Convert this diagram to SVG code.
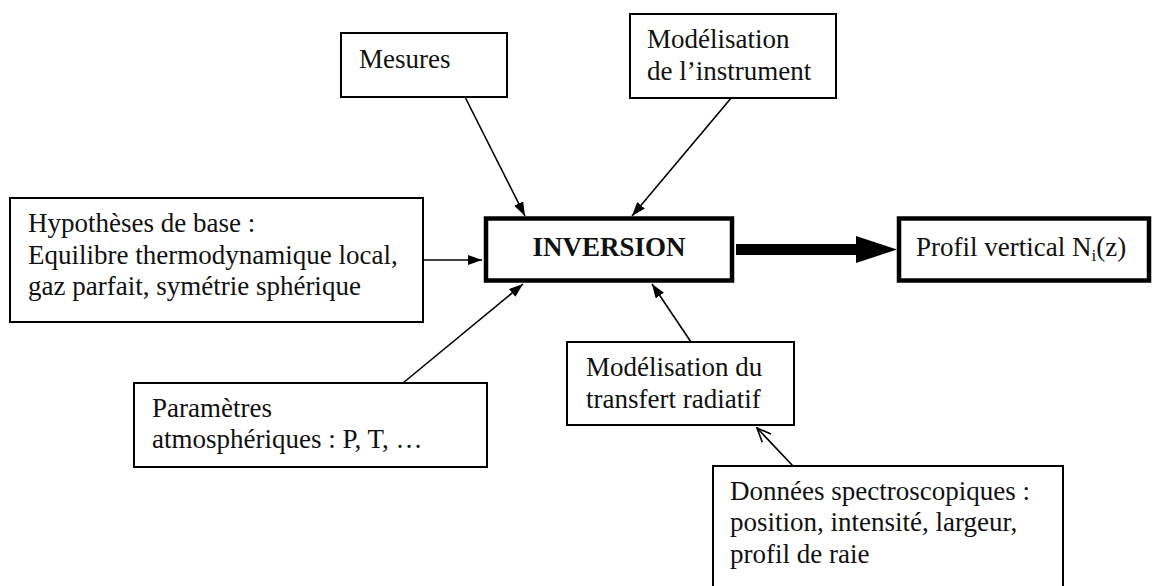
<svg xmlns="http://www.w3.org/2000/svg" width="1157" height="586" viewBox="0 0 1157 586">
<style>
.box{fill:#fff;stroke:#000;stroke-width:2}
.bold{fill:#fff;stroke:#000;stroke-width:4.5}
.t{font-family:"Liberation Serif","Times New Roman",serif;font-size:27px;fill:#111}
.tb{font-family:"Liberation Serif","Times New Roman",serif;font-size:27px;font-weight:bold;fill:#111}
.c{stroke:#000;stroke-width:1.6;fill:none}
</style>
<defs>
<marker id="ah" viewBox="0 0 14 10" refX="14" refY="5" markerWidth="14" markerHeight="10" markerUnits="userSpaceOnUse" orient="auto">
<path d="M0,0 L14,5 L0,10 z" fill="#000"/>
</marker>
<marker id="ao" viewBox="0 0 16 14" refX="15" refY="7" markerWidth="16" markerHeight="14" markerUnits="userSpaceOnUse" orient="auto">
<path d="M1,1 L15,7 L1,13" fill="none" stroke="#000" stroke-width="1.6"/>
</marker>
</defs>
<rect width="1157" height="586" fill="#fff"/>
<g id="connectors">
<line class="c" x1="465" y1="97" x2="525" y2="216" marker-end="url(#ah)"/>
<line class="c" x1="732" y1="97" x2="632" y2="216" marker-end="url(#ah)"/>
<line class="c" x1="423" y1="260" x2="482" y2="260" marker-end="url(#ah)"/>
<line class="c" x1="403" y1="383" x2="523" y2="284" marker-end="url(#ah)"/>
<line class="c" x1="691" y1="342" x2="652" y2="284" marker-end="url(#ah)"/>
<line class="c" x1="793" y1="466" x2="757" y2="428" marker-end="url(#ao)"/>
<polygon points="736,244 856,244 856,236 897,249.5 856,263 856,255 736,255" fill="#000"/>
</g>
<g id="mesures">
<rect class="box" x="341" y="33" width="166" height="64"/>
<text class="t" x="359" y="68">Mesures</text>
</g>
<g id="instrument">
<rect class="box" x="630" y="14" width="206" height="84"/>
<text class="t" x="647" y="48">Modélisation</text>
<text class="t" x="647" y="80">de l’instrument</text>
</g>
<g id="hypotheses">
<rect class="box" x="10" y="198" width="413" height="124"/>
<text class="t" x="28" y="232">Hypothèses de base :</text>
<text class="t" x="28" y="264">Equilibre thermodynamique local,</text>
<text class="t" x="28" y="295">gaz parfait, symétrie sphérique</text>
</g>
<g id="inversion">
<rect class="bold" x="486" y="218.5" width="246" height="62"/>
<text class="tb" x="609" y="256" text-anchor="middle">INVERSION</text>
</g>
<g id="profil">
<rect class="bold" x="899" y="218.5" width="250" height="62"/>
<text class="t" x="916" y="256">Profil vertical N<tspan font-size="17" dy="5">i</tspan><tspan dy="-5">(z)</tspan></text>
</g>
<g id="parametres">
<rect class="box" x="134" y="383" width="353" height="84"/>
<text class="t" x="152" y="417">Paramètres</text>
<text class="t" x="152" y="448">atmosphériques : P, T, …</text>
</g>
<g id="transfert">
<rect class="box" x="567" y="342" width="227" height="83"/>
<text class="t" x="586" y="376">Modélisation du</text>
<text class="t" x="586" y="408">transfert radiatif</text>
</g>
<g id="donnees">
<rect class="box" x="713" y="466" width="350" height="130"/>
<text class="t" x="730" y="500">Données spectroscopiques :</text>
<text class="t" x="730" y="531">position, intensité, largeur,</text>
<text class="t" x="730" y="563">profil de raie</text>
</g>
</svg>
